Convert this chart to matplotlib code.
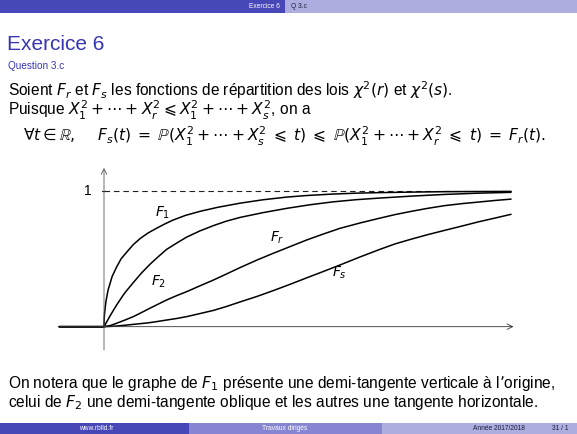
"""
Slide 31: Exercice 6, Q 3.c -- chi2 distribution functions sketch
"""

import matplotlib
matplotlib.use("Agg")
import matplotlib.pyplot as plt
from matplotlib.patches import Rectangle

plt.rcParams['mathtext.fontset'] = 'dejavusans'
plt.rcParams['font.family'] = ['Liberation Sans', 'DejaVu Sans']

W, H = 577, 434

# curves (t in arbitrary units, 10 = right end)
t_f1 = [-1.1, 0, 0.005, 0.01, 0.025, 0.05, 0.1, 0.2, 0.31, 0.42, 0.56, 0.72, 0.89, 1.08, 1.29, 1.5,
        1.7, 2.0, 2.36, 2.8, 3.34, 3.9, 4.49, 5.0, 5.6, 6.2, 6.78, 7.6, 8.4, 9.2, 10]
f1 = [0, 0, 0.06, 0.085, 0.13, 0.19, 0.27, 0.37, 0.44, 0.50, 0.55, 0.605, 0.65, 0.69, 0.725, 0.758,
      0.786, 0.82, 0.85, 0.88, 0.91, 0.935, 0.955, 0.967, 0.977, 0.984, 0.988, 0.992, 0.995, 0.996, 0.997]

t_f2 = [-1.1, 0, 0.15, 0.31, 0.5, 0.72, 0.92, 1.13, 1.33, 1.54, 1.78, 2.03, 2.35, 2.69, 3.0, 3.34,
        3.9, 4.49, 5.05, 5.63, 6.2, 6.78, 7.6, 8.4, 9.2, 10]
f2 = [0, 0, 0.08, 0.16, 0.245, 0.325, 0.395, 0.46, 0.515, 0.57, 0.615, 0.66, 0.705, 0.745, 0.777, 0.805,
      0.84, 0.872, 0.898, 0.92, 0.936, 0.948, 0.963, 0.975, 0.984, 0.99]

t_rs = [-1.1, 0, 0.15, 0.31, 0.5, 0.72, 0.92, 1.13, 1.33, 1.54, 1.78, 2.03, 2.35, 2.69, 3.0, 3.34,
        3.75, 4.16, 4.57, 4.98, 5.4, 5.8, 6.3, 6.78, 7.15, 7.55, 7.95, 8.37, 8.8, 9.19, 9.6, 10]
f_r = [0, 0, 0.008, 0.025, 0.047, 0.074, 0.104, 0.136, 0.166, 0.197, 0.228, 0.258, 0.3, 0.344, 0.387, 0.435,
       0.49, 0.541, 0.59, 0.639, 0.684, 0.725, 0.765, 0.80, 0.826, 0.85, 0.872, 0.892, 0.907, 0.918, 0.93, 0.94]
f_s = [0, 0, 0.002, 0.005, 0.01, 0.017, 0.023, 0.03, 0.039, 0.049, 0.06, 0.074, 0.096, 0.12, 0.148, 0.182,
       0.222, 0.266, 0.312, 0.36, 0.408, 0.455, 0.515, 0.57, 0.61, 0.645, 0.678, 0.71, 0.742, 0.772, 0.8, 0.828]

curve_labels = [r'$F_1$', r'$F_2$', r'$F_r$', r'$F_s$']
label_pos = [(1.45, 0.84), (1.33, 0.33), (4.25, 0.655), (5.78, 0.395)]

# colours of the beamer theme
dark = '#4747b7'
mid = '#8585d1'
light = '#adade0'
title_col = '#3636b3'


def fx(px):
    return px / W


def fy(py):
    return 1 - py / H


fig = plt.figure(figsize=(W / 100, H / 100), dpi=100)
fig.patch.set_facecolor('white')

# ---- header / footer bands ----
def band(x0, x1, y0, y1, color):
    fig.add_artist(Rectangle((fx(x0), fy(y1)), (x1 - x0) / W, (y1 - y0) / H,
                             transform=fig.transFigure, facecolor=color,
                             edgecolor='none', zorder=0))

band(0, 285, 0, 13, dark)
band(285, W, 0, 13, light)
band(0, 189, 423, H, dark)
band(189, 382, 423, H, mid)
band(382, W, 423, H, light)

fig.text(fx(280), fy(6.8), 'Exercice 6', color='white', fontsize=4.8, ha='right', va='center')
fig.text(fx(291), fy(6.8), 'Q 3.c', color='#1c1c3c', fontsize=4.8, ha='left', va='center')

fig.text(fx(96), fy(428.5), 'www.rblld.fr', color='white', fontsize=4.8, ha='center', va='center')
fig.text(fx(285), fy(428.5), 'Travaux dirigés', color='white', fontsize=4.8, ha='center', va='center')
fig.text(fx(525), fy(428.5), 'Année 2017/2018', color='#1c1c3c', fontsize=4.8, ha='right', va='center')
fig.text(fx(568), fy(428.5), '31 / 1', color='#1c1c3c', fontsize=4.8, ha='right', va='center')

# ---- title and text ----
fig.text(fx(7), fy(50), 'Exercice 6', color=title_col, fontsize=15, ha='left', va='baseline')
fig.text(fx(8), fy(69), 'Question 3.c', color=title_col, fontsize=7.2, ha='left', va='baseline')

fs_body = 11.2
fig.text(fx(8), fy(96), r'Soient $F_r$ et $F_s$ les fonctions de répartition des lois $\chi^2(r)$ et $\chi^2(s)$.',
         fontsize=fs_body, ha='left', va='baseline')
fig.text(fx(8), fy(115), r'Puisque $X_1^2+\cdots+X_r^2\leqslant X_1^2+\cdots+X_s^2$, on a',
         fontsize=fs_body, ha='left', va='baseline')
fig.text(fx(23), fy(141),
         r'$\forall t\in\mathbb{R},\quad\; F_s(t)\;=\;\mathbb{P}(X_1^2+\cdots+X_s^2\;\leqslant\; t)'
         r'\;\leqslant\;\mathbb{P}(X_1^2+\cdots+X_r^2\;\leqslant\; t)\;=\;F_r(t).$',
         fontsize=fs_body, ha='left', va='baseline')

fig.text(fx(8), fy(388), r'On notera que le graphe de $F_1$ présente une demi-tangente verticale à l’origine,',
         fontsize=fs_body, ha='left', va='baseline')
fig.text(fx(8), fy(407), r'celui de $F_2$ une demi-tangente oblique et les autres une tangente horizontale.',
         fontsize=fs_body, ha='left', va='baseline')

# ---- the sketch ----
ax = fig.add_axes([0, 0, 1, 1])
ax.set_xlim(-2.555, 11.62)
ax.set_ylim(-0.791, 2.4075)
ax.axis('off')

# axes with arrows
ax.annotate('', xy=(10.06, 0), xytext=(-1.13, 0),
            arrowprops=dict(arrowstyle='->', lw=0.6, color='#333333', shrinkA=0, shrinkB=0))
ax.annotate('', xy=(0, 1.17), xytext=(0, -0.172),
            arrowprops=dict(arrowstyle='->', lw=0.6, color='#555555', shrinkA=0, shrinkB=0))

# level 1
ax.plot([0, 10], [1, 1], color='#222222', lw=0.8, ls=(0, (5, 3.5)))
ax.plot([-0.06, 0.06], [1, 1], color='#222222', lw=0.8)
ax.text(-0.39, 1, '1', fontsize=10, ha='center', va='center')

for t, v in [(t_f1, f1), (t_f2, f2), (t_rs, f_r), (t_rs, f_s)]:
    ax.plot(t, v, color='black', lw=1.1, solid_joinstyle='round', solid_capstyle='round')

for lab, (x, y) in zip(curve_labels, label_pos):
    ax.text(x, y, lab, fontsize=10, ha='center', va='center')

fig.savefig('out.png', dpi=100, facecolor='white')
